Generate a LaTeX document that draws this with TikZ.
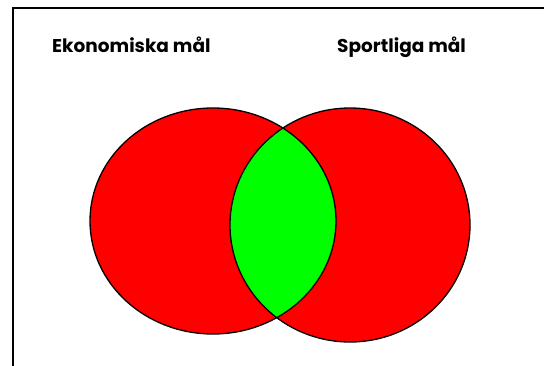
\documentclass[tikz,border=0pt]{standalone}
\usepackage{fontspec}
\setmainfont{Poppins}
\definecolor{vred}{RGB}{255,0,0}
\definecolor{vgreen}{RGB}{0,255,0}
\begin{document}
\begin{tikzpicture}[x=1pt,y=-1pt,
  lbl/.style={inner sep=0pt,anchor=base west,font=\fontsize{18.5}{18.5}\selectfont\bfseries},
  outline/.style={draw=black,line width=1.3pt}]
\useasboundingbox (0,0) rectangle (544,365);
\fill[white] (0,0) rectangle (544,365);
% frame
\draw[line width=1.6pt] (13,366) -- (13,8) -- (545,8);
% ellipses
\coordinate (L) at (213,221);
\coordinate (R) at (350,225);
\fill[vred] (L) ellipse [x radius=123, y radius=113];
\fill[vred] (R) ellipse [x radius=120, y radius=117];
\begin{scope}
  \clip (L) ellipse [x radius=123, y radius=113];
  \fill[vgreen] (R) ellipse [x radius=120, y radius=117];
\end{scope}
\draw[outline] (L) ellipse [x radius=123, y radius=113];
\draw[outline] (R) ellipse [x radius=120, y radius=117];
% labels
\node[lbl] (ek) at (52,52) {Ekonomiska mål};
\node[lbl] (sp) at (337,52) {Sportliga mål};
\end{tikzpicture}
\end{document}
